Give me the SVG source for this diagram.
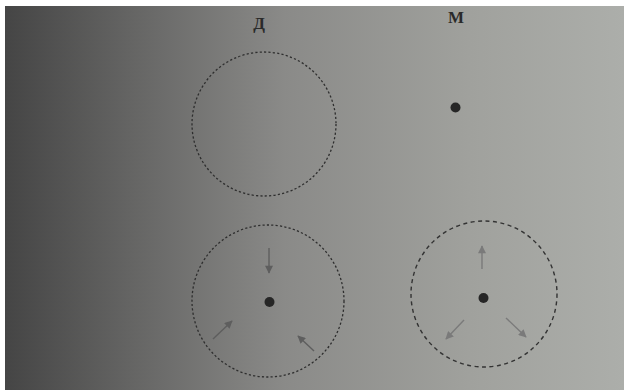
<svg xmlns="http://www.w3.org/2000/svg" width="624" height="392" viewBox="0 0 624 392">
  <defs>
    <linearGradient id="bg" x1="0" y1="0" x2="1" y2="0">
      <stop offset="0" stop-color="#454545"/>
      <stop offset="0.2" stop-color="#646463"/>
      <stop offset="0.45" stop-color="#8a8a88"/>
      <stop offset="0.75" stop-color="#a0a19d"/>
      <stop offset="1" stop-color="#acaeaa"/>
    </linearGradient>
    <marker id="ahL" viewBox="0 0 10 10" refX="9" refY="5" markerWidth="9" markerHeight="8" orient="auto" markerUnits="userSpaceOnUse">
      <path d="M0,0 L10,5 L0,10 z" fill="#5e5e5e"/>
    </marker>
    <marker id="ahR" viewBox="0 0 10 10" refX="9" refY="5" markerWidth="9" markerHeight="8" orient="auto" markerUnits="userSpaceOnUse">
      <path d="M0,0 L10,5 L0,10 z" fill="#7a7a7a"/>
    </marker>
  </defs>
  <style>
    .lbl { font-family: "Liberation Serif", "DejaVu Serif", serif; font-size: 17px; fill: #2a2a2a; text-anchor: middle; font-weight: bold; }
    .dotted { fill: none; stroke: #2e2e2e; stroke-width: 1.3; stroke-dasharray: 2.2 2.2; }
    .dashed { fill: none; stroke: #333333; stroke-width: 1.4; stroke-dasharray: 4 3.5; }
    .dot { fill: #262626; }
    .arrL { stroke: #5e5e5e; stroke-width: 1.4; fill: none; marker-end: url(#ahL); }
    .arrR { stroke: #7a7a7a; stroke-width: 1.4; fill: none; marker-end: url(#ahR); }
  </style>
  <rect x="0" y="0" width="624" height="392" fill="#ffffff"/>
  <rect x="5" y="6" width="619" height="384" fill="url(#bg)"/>

  <g id="label-d"><text class="lbl" x="259" y="29">Д</text></g>
  <g id="label-m"><text class="lbl" x="456" y="23">М</text></g>

  <g id="node-d-top"><circle class="dotted" cx="264" cy="124" r="72"/></g>
  <g id="node-m-top"><circle class="dot" cx="455.5" cy="107.5" r="5"/></g>

  <g id="node-d-bottom">
    <circle class="dotted" cx="268" cy="301" r="76"/>
    <circle class="dot" cx="269.5" cy="302" r="5"/>
  </g>
  <g id="node-m-bottom">
    <circle class="dashed" cx="484" cy="294" r="73"/>
    <circle class="dot" cx="483.5" cy="298" r="5"/>
  </g>

  <g id="connectors">
    <line class="arrL" x1="269" y1="248" x2="269" y2="273"/>
    <line class="arrL" x1="213" y1="339" x2="232" y2="321"/>
    <line class="arrL" x1="314" y1="351" x2="298" y2="336"/>
    <line class="arrR" x1="482" y1="269" x2="482" y2="246"/>
    <line class="arrR" x1="464" y1="320" x2="446" y2="339"/>
    <line class="arrR" x1="506" y1="318" x2="526" y2="337"/>
  </g>
</svg>
